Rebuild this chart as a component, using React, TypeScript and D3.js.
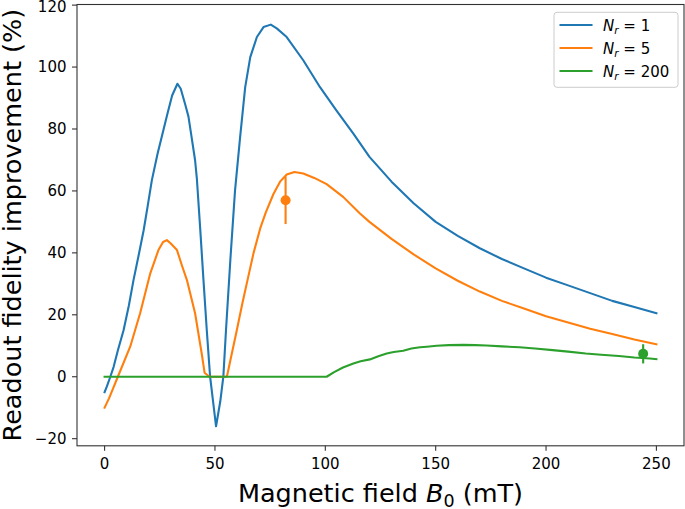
import React from "react";
import * as d3 from "d3";

// ---- data ----
const blueB = [0, 1, 2.6, 4.1, 6, 8.6, 11, 13.1, 15.5, 17.7, 19.5, 21.4, 24, 26.6, 28.5, 30.6, 33, 34.5, 36.5, 38, 39.5, 41, 41.8, 43.3, 44.8, 46.3, 47.8, 50.5, 52.4, 53.8, 55, 57, 59.1, 61.4, 63.7, 66, 69, 72, 75.3, 78, 82.5, 90, 97.6, 105, 112.7, 120, 130, 140, 150, 160, 170, 180, 190, 200, 210, 220, 230, 240, 250];
const blueV = [-5, -3.2, 0, 3.2, 8.5, 15, 23, 31.2, 39.5, 47.3, 55, 63.4, 72, 79.5, 85, 90.8, 94.6, 93, 88, 84, 77, 69.9, 64, 48, 31.2, 15, 0, -16, -8, 0, 15, 38, 60.2, 77.4, 93.5, 103.2, 109.7, 112.9, 113.7, 112.5, 109.7, 102.2, 93.5, 86, 78.5, 71, 63, 56, 50, 45.5, 41.5, 38, 35, 32, 29.5, 27, 24.5, 22.5, 20.5];

const orangeB = [0, 2, 4, 6, 11.6, 16.1, 20.7, 24.4, 26.5, 28.2, 30, 32.8, 35, 37.3, 41, 44, 45.3, 47.5, 55.4, 57.5, 59.9, 62.5, 65, 67.5, 70.5, 73, 76.5, 79.5, 82.5, 86, 90, 95, 100.6, 108.2, 115.7, 120, 130, 140, 150, 160, 170, 180, 190, 200, 210, 220, 230, 240, 250];
const orangeV = [-10, -7, -3.5, 0, 9.7, 20.5, 33.4, 40.9, 43.5, 44.1, 43, 40.9, 36, 31.2, 20.5, 7.5, 1.3, 0, 0, 7, 15, 24, 32, 40, 47.9, 53, 59, 63, 65.3, 66.1, 65.6, 64.2, 62.2, 58, 52.7, 50, 44.5, 39.5, 35, 31, 27.5, 24.5, 22, 19.5, 17.5, 15.5, 13.8, 12, 10.5];

const greenB = [0, 100.6, 104, 108, 112.7, 116, 120.2, 124, 127.8, 131, 135.3, 139, 142.9, 146, 150.4, 156, 162.5, 168, 173, 180, 188, 195, 203, 210, 218, 225, 233, 240, 247, 250];
const greenV = [0, 0, 1.5, 3, 4.3, 5, 5.6, 6.6, 7.5, 8, 8.4, 9.1, 9.5, 9.7, 10.0, 10.2, 10.3, 10.2, 10.1, 9.8, 9.5, 9.1, 8.6, 8.1, 7.5, 7.1, 6.7, 6.2, 5.9, 5.7];

const expB = [82, 244];
const expV = [57, 7.4];
const expErr = [7.7, 3.1];
const expColorIdx = [1, 2];

const seriesLabels = ["1", "5", "200"];
const colors = ["#1f77b4", "#ff7f0e", "#2ca02c"];
const xTicks = [0, 50, 100, 150, 200, 250];
const yTicks = [-20, 0, 20, 40, 60, 80, 100, 120];

const W = 685;
const H = 509;
const L = 77, R = 684, T = 4.5, B = 445.8;

export default function App() {
  const x = d3.scaleLinear().domain([-12.5, 262.5]).range([L, R]);
  const y = d3.scaleLinear().domain([-22.3, 120.2]).range([B, T]);
  const line = d3
    .line<[number, number]>()
    .x((d) => x(d[0]))
    .y((d) => y(d[1]));

  const series = [
    blueB.map((b, i) => [b, blueV[i]] as [number, number]),
    orangeB.map((b, i) => [b, orangeV[i]] as [number, number]),
    greenB.map((b, i) => [b, greenV[i]] as [number, number]),
  ];

  const font = "DejaVu Sans, sans-serif";
  const axisColor = "#333";

  return (
    <svg
      width={W}
      height={H}
      style={{ position: "absolute", left: 0, top: 0, background: "#fff" }}
      fontFamily={font}
    >
      <rect x={0} y={0} width={W} height={H} fill="#fff" />
      {series.map((s, i) => (
        <path
          key={i}
          d={line(s) || ""}
          fill="none"
          stroke={colors[i]}
          strokeWidth={2.1}
          strokeLinejoin="round"
          strokeLinecap="square"
        />
      ))}
      {expB.map((b, i) => (
        <g key={"e" + i}>
          <line
            x1={x(b)}
            x2={x(b)}
            y1={y(expV[i] - expErr[i])}
            y2={y(expV[i] + expErr[i])}
            stroke={colors[expColorIdx[i]]}
            strokeWidth={2.1}
          />
          <circle cx={x(b)} cy={y(expV[i])} r={5} fill={colors[expColorIdx[i]]} />
        </g>
      ))}
      {/* frame */}
      <rect x={L} y={T} width={R - L} height={B - T} fill="none" stroke={axisColor} strokeWidth={1.1} />
      {/* x ticks */}
      {xTicks.map((t) => (
        <g key={"x" + t}>
          <line x1={x(t)} x2={x(t)} y1={B} y2={B + 5} stroke={axisColor} strokeWidth={1.1} />
          <text x={x(t)} y={469} textAnchor="middle" fontSize={15} fill="#000">
            {t}
          </text>
        </g>
      ))}
      {/* y ticks */}
      {yTicks.map((t) => (
        <g key={"y" + t}>
          <line x1={L - 5} x2={L} y1={y(t)} y2={y(t)} stroke={axisColor} strokeWidth={1.1} />
          <text x={66.5} y={Math.max(y(t) + 5.4, 11.6)} textAnchor="end" fontSize={15} fill="#000">
            {t < 0 ? "\u2212" + Math.abs(t) : t}
          </text>
        </g>
      ))}
      {/* axis labels */}
      <text x={(L + R) / 2} y={502} textAnchor="middle" fontSize={25.5} fill="#000">
        Magnetic field <tspan fontStyle="italic">B</tspan>
        <tspan fontSize={17.5} dy={4.5}>0</tspan>
        <tspan dy={-4.5}> (mT)</tspan>
      </text>
      <text
        transform={`translate(21,${(T + B) / 2}) rotate(-90)`}
        textAnchor="middle"
        fontSize={25.5}
        fill="#000"
      >
        Readout fidelity improvement (%)
      </text>
      {/* legend */}
      <rect x={554} y={12.3} width={124} height={75} rx={3} fill="#fff" fillOpacity={0.8} stroke="#ccc" strokeWidth={1} />
      {seriesLabels.map((lab, i) => {
        const yy = 25 + i * 23;
        return (
          <g key={"l" + i}>
            <line x1={559.5} x2={592.5} y1={yy} y2={yy} stroke={colors[i]} strokeWidth={2.1} />
            <text x={603} y={yy + 5.5} fontSize={15} fill="#000">
              <tspan fontStyle="italic">N</tspan>
              <tspan fontStyle="italic" fontSize={10.5} dy={3.5}>r</tspan>
              <tspan dy={-3.5}>{" = " + lab}</tspan>
            </text>
          </g>
        );
      })}
    </svg>
  );
}
